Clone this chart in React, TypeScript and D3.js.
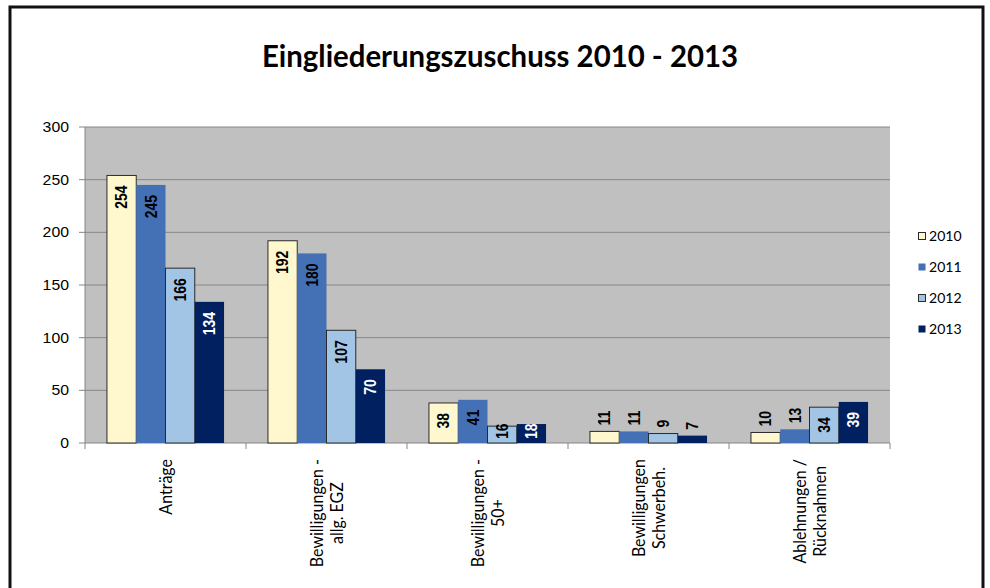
import React from "react";
import * as d3 from "d3";

const categoryLines: string[][] = [
  ["Anträge"],
  ["Bewilligungen -", "allg. EGZ"],
  ["Bewilligungen -", "50+"],
  ["Bewilligungen", "Schwerbeh."],
  ["Ablehnungen /", "Rücknahmen"],
];
const categories = categoryLines.map((l) => l.join(" "));
const years = ["2010", "2011", "2012", "2013"];
const values2010 = [254, 192, 38, 11, 10];
const values2011 = [245, 180, 41, 11, 13];
const values2012 = [166, 107, 16, 9, 34];
const values2013 = [134, 70, 18, 7, 39];
const yTicks = [0, 50, 100, 150, 200, 250, 300];
const title = "Eingliederungszuschuss 2010 - 2013";

const seriesValues = [values2010, values2011, values2012, values2013];
const fills = ["#FFF8CF", "#4471B5", "#A2C5E6", "#002060"];
const strokes = ["#2a2a2a", "none", "#2a2a2a", "none"];
const labelColors = ["#000", "#000", "#000", "#fff"];

const W = 990, H = 588;
const plot = { left: 85, right: 890, top: 127, bottom: 443 };
const SX = 1.13;

let ctx: CanvasRenderingContext2D | null = null;
function measure(text: string, font: string) {
  if (!ctx) ctx = document.createElement("canvas").getContext("2d");
  if (!ctx) return text.length * 7;
  ctx.font = font;
  return ctx.measureText(text).width;
}

export default function App() {
  const x0 = d3.scaleBand<string>().domain(categories).range([plot.left, plot.right]).padding(0);
  const x1 = d3.scaleBand<string>().domain(years).range([0, x0.bandwidth()]).paddingInner(0).paddingOuter(0.75);
  const y = d3.scaleLinear().domain([0, 300]).range([plot.bottom, plot.top]);

  const labelFontSize = 14;
  const labelFont = `bold ${labelFontSize}px "Liberation Sans", Arial, sans-serif`;
  const catFontSize = 16;
  const catFontFamily = "Lato, 'Open Sans', sans-serif";
  const catFont = `${catFontSize}px Lato`;

  const boundaries = categories.map((c) => x0(c)!).concat([plot.right]);

  return (
    <div style={{ position: "absolute", left: 0, top: 0, width: W, height: H, overflow: "hidden", background: "#fff" }}>
      <svg width={W} height={H} style={{ display: "block" }}>
        <rect x={0} y={0} width={W} height={H} fill="#fff" />
        <rect x={10} y={7} width={973} height={620} fill="#fff" stroke="#111" strokeWidth={3} />
        <text
          x={500}
          y={67}
          textAnchor="middle"
          fontFamily="Lato, sans-serif"
          fontWeight="bold"
          fontSize={30}
          fill="#000"
          textLength={476}
          lengthAdjust="spacingAndGlyphs"
        >
          {title}
        </text>

        <rect x={plot.left} y={plot.top} width={plot.right - plot.left} height={plot.bottom - plot.top} fill="#C0C0C0" />
        {yTicks.filter((t) => t > 0).map((t) => (
          <line key={"g" + t} x1={plot.left} x2={plot.right} y1={y(t)} y2={y(t)} stroke="#868686" strokeWidth={1} />
        ))}
        {/* y axis */}
        <line x1={plot.left} x2={plot.left} y1={plot.top} y2={plot.bottom} stroke="#868686" strokeWidth={1} />
        {yTicks.map((t) => (
          <g key={"yt" + t}>
            <line x1={plot.left - 6} x2={plot.left} y1={y(t)} y2={y(t)} stroke="#868686" strokeWidth={1} />
            <g transform={`translate(69,${y(t)}) scale(${SX},1)`}>
              <text textAnchor="end" dominantBaseline="central" fontFamily="'Liberation Sans', Arial, sans-serif" fontSize={14} fill="#000">
                {t}
              </text>
            </g>
          </g>
        ))}
        {/* x axis */}
        <line x1={plot.left} x2={plot.right} y1={plot.bottom} y2={plot.bottom} stroke="#868686" strokeWidth={1} />
        {boundaries.map((bx, i) => (
          <line key={"xt" + i} x1={bx} x2={bx} y1={plot.bottom} y2={plot.bottom + 6} stroke="#868686" strokeWidth={1} />
        ))}

        {/* bars */}
        {categories.map((c, ci) => (
          <g key={c}>
            {years.map((yr, si) => {
              const v = seriesValues[si][ci];
              const bx = x0(c)! + x1(yr)!;
              const bw = x1.bandwidth();
              const top = y(v);
              const h = plot.bottom - top;
              const cx = bx + bw / 2;
              const len = measure(String(v), labelFont);
              const inside = h >= 15;
              const ly = inside ? Math.min(top + 10, plot.bottom - 4 - len) : top - 6;
              return (
                <g key={yr}>
                  <rect x={bx} y={top} width={bw} height={h} fill={fills[si]} stroke={strokes[si]} strokeWidth={1} />
                  <g transform={`translate(${cx},${ly}) scale(${SX},1) rotate(-90)`}>
                    <text
                      textAnchor={inside ? "end" : "start"}
                      dominantBaseline="central"
                      fontFamily="'Liberation Sans', Arial, sans-serif"
                      fontWeight="bold"
                      fontSize={labelFontSize}
                      fill={inside ? labelColors[si] : "#000"}
                    >
                      {v}
                    </text>
                  </g>
                </g>
              );
            })}
          </g>
        ))}

        {/* category labels */}
        {categoryLines.map((lines, ci) => {
          const cx = x0(categories[ci])! + x0.bandwidth() / 2;
          const L = Math.max(...lines.map((l) => measure(l, catFont)));
          const cy = 459 + L / 2;
          const ls = 20;
          return (
            <g key={"cl" + ci}>
              {lines.map((line, li) => {
                const lx = cx + (li - (lines.length - 1) / 2) * ls;
                return (
                  <g key={li} transform={`translate(${lx},${cy}) scale(${SX},1) rotate(-90)`}>
                    <text textAnchor="middle" dominantBaseline="central" fontFamily={catFontFamily} fontSize={catFontSize} fill="#000">
                      {line}
                    </text>
                  </g>
                );
              })}
            </g>
          );
        })}

        {/* legend */}
        {years.map((yr, i) => {
          const ly = 236 + i * 31;
          return (
            <g key={"lg" + yr}>
              <rect x={918.5} y={ly - 3.5} width={7} height={7} fill={fills[i]} stroke={strokes[i]} strokeWidth={1} />
              <g transform={`translate(929,${ly}) scale(1.08,1)`}>
                <text dominantBaseline="central" fontFamily="Lato, sans-serif" fontSize={13} fill="#000">
                  {yr}
                </text>
              </g>
            </g>
          );
        })}
      </svg>
    </div>
  );
}
